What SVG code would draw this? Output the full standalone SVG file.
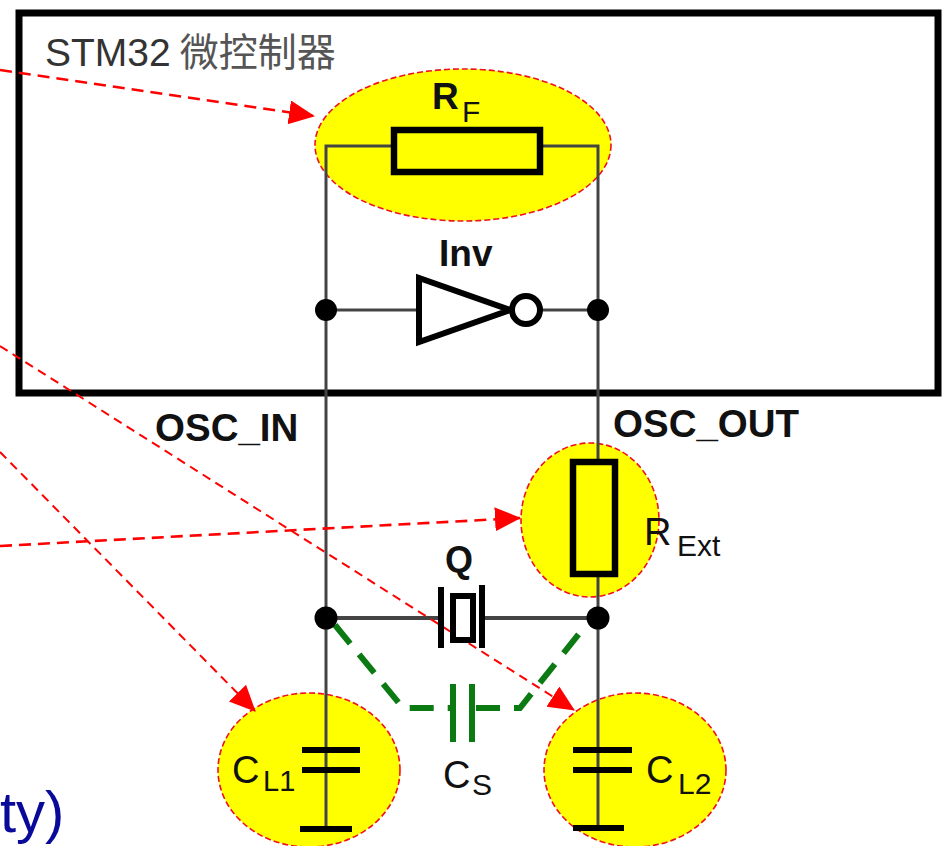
<svg xmlns="http://www.w3.org/2000/svg" width="942" height="846" viewBox="0 0 942 846">
<style>
.halo{fill:#ffff00;stroke:#f01020;stroke-width:1.6;stroke-dasharray:6 3}
.wire{fill:none;stroke:#444;stroke-width:3}
.thick{fill:none;stroke:#000;stroke-width:6}
.dot{fill:#000}
.red{fill:none;stroke:#ff0000;stroke-width:2;stroke-dasharray:9 6}
.red2{fill:none;stroke:#ff0000;stroke-width:2.6;stroke-dasharray:12 7}
.green{fill:none;stroke:#0b7a12;stroke-width:6}
text{font-family:"Liberation Sans",Arial,"Noto Sans CJK SC",sans-serif;fill:#111}
.b{font-weight:bold;font-size:38.5px}
.n{font-size:38px}
.s{font-size:30px}
</style>
<defs>
<marker id="arrow" markerUnits="userSpaceOnUse" markerWidth="28" markerHeight="26" refX="25" refY="12" orient="auto"><path d="M0 0L26 12L0 24Z" fill="#ff0000"/></marker>
</defs>
<rect width="942" height="846" fill="#fff"/>
<g id="mcu"><rect x="19" y="13" width="919" height="380" fill="#fff" stroke="#000" stroke-width="7"/>
<text x="45" y="66" font-size="39" style="fill:#333">STM32<tspan font-family="'Noto Sans CJK SC',sans-serif" font-size="39" dx="9" style="fill:#555">微控制器</tspan></text></g>
<g id="rf-halo"><ellipse cx="463" cy="145" rx="148" ry="76" class="halo"/></g>
<g id="rext-halo"><ellipse cx="590" cy="520" rx="69" ry="77" class="halo"/></g>
<g id="cl1-halo"><ellipse cx="309" cy="770" rx="91" ry="77" class="halo"/></g>
<g id="cl2-halo"><ellipse cx="635" cy="770" rx="91" ry="77" class="halo"/></g>
<g id="connectors">
<path class="wire" d="M326 310V146H392M541 146H598V310M326 310V829M326 310H418M541 310H598M598 310V462M598 574V618M598 618V828"/>
<path d="M326 618H440M484 618H598" fill="none" stroke="#444" stroke-width="4"/>
<path class="green" stroke-dasharray="24 14" d="M335 625L403 708H450M476 708H520L586 625"/>
<path class="red2" d="M0 70L314 116" marker-end="url(#arrow)"/>
<path class="red2" d="M0 546L520 518" marker-end="url(#arrow)"/>
<path class="red" d="M0 346L574 710" marker-end="url(#arrow)"/>
<path class="red" d="M0 452L255 711" marker-end="url(#arrow)"/>
<circle class="dot" cx="326" cy="310" r="11"/><circle class="dot" cx="598" cy="310" r="11"/>
<circle class="dot" cx="326" cy="618" r="11.5"/><circle class="dot" cx="598" cy="618" r="11.5"/>
</g>
<g id="rf"><rect x="394" y="130" width="146" height="42" fill="#ffff00" stroke="#000" stroke-width="6.5"/>
<text x="432" y="109" font-size="37" font-weight="bold">R</text><text x="462" y="122" class="s">F</text></g>
<g id="inv"><path d="M419 278V342L510 310Z" fill="#fff" stroke="#000" stroke-width="6"/><circle cx="526" cy="310" r="14" fill="#fff" stroke="#000" stroke-width="6"/>
<text x="439" y="266" font-size="37" font-weight="bold">Inv</text></g>
<g id="osc-in"><text x="155" y="441" class="b">OSC_IN</text></g>
<g id="osc-out"><text x="613" y="437" class="b">OSC_OUT</text></g>
<g id="rext"><rect x="573" y="462" width="42" height="112" fill="#ffff00" stroke="#000" stroke-width="6.5"/>
<text x="644" y="545" class="n">R</text><text x="677" y="556" font-size="30">Ext</text></g>
<g id="q"><text x="445" y="572" font-size="36" font-weight="bold">Q</text>
<path class="thick" d="M441 587V648M482 585V648"/><rect x="453" y="596" width="20" height="44" fill="#fff" stroke="#000" stroke-width="6"/></g>
<g id="cs"><path d="M453 684V742M472 684V742" class="green"/><text x="443" y="788" class="n">C</text><text x="472" y="795" font-size="30">S</text></g>
<g id="cl1"><path class="thick" d="M302 750H360M302 770H360M300 829H352" stroke-width="7"/><text x="232" y="783" class="n">C</text><text x="263" y="791" font-size="29">L1</text></g>
<g id="cl2"><path class="thick" d="M573 750H632M573 770H632M573 828H624" stroke-width="7"/><text x="646" y="783" class="n">C</text><text x="678" y="794" font-size="30">L2</text></g>
<text x="0" y="832" font-size="58" style="fill:#0a0a9a">ty)</text>
</svg>
